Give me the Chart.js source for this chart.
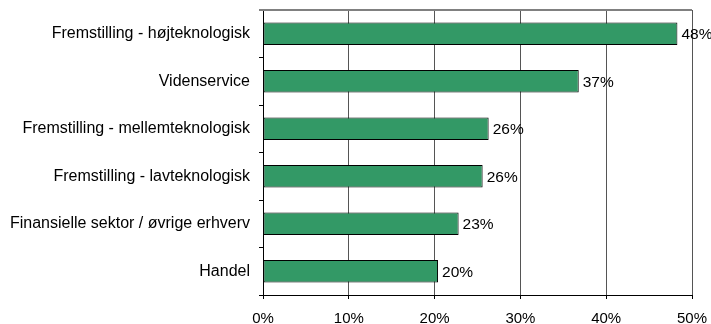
<!DOCTYPE html>
<html>
<head>
<meta charset="utf-8">
<script src="https://cdn.jsdelivr.net/npm/chart.js@4/dist/chart.umd.min.js"></script>
<style>
    body { margin: 0; background: #fff; }
</style>
</head>
<body>
<canvas id="chart-sektor" width="711" height="324"></canvas>
<script>
// data
const kategorier = [
    'Fremstilling - højteknologisk',
    'Videnservice',
    'Fremstilling - mellemteknologisk',
    'Fremstilling - lavteknologisk',
    'Finansielle sektor / øvrige erhverv',
    'Handel'
];
const andele = [48.3, 36.8, 26.3, 25.6, 22.8, 20.4];
const xTicks = [0, 10, 20, 30, 40, 50];

const fontNavn = "'Liberation Sans', Arial, sans-serif";

// Vaerdi-labels ved enden af soejlerne
const labelPlugin = {
    id: 'labels',
    afterDatasetsDraw(chart) {
        const ctx = chart.ctx;
        const meta = chart.getDatasetMeta(0);
        ctx.save();
        ctx.font = '15.5px ' + fontNavn;
        ctx.fillStyle = '#000';
        ctx.textAlign = 'left';
        ctx.textBaseline = 'middle';
        meta.data.forEach(function (bar, i) {
            ctx.fillText(Math.round(andele[i]) + '%', bar.x + 4, bar.y + 1);
        });
        ctx.restore();
    }
};

// graa ramme-linje i toppen
const topLinje = {
    id: 'toplinje',
    afterDraw(chart) {
        const a = chart.chartArea;
        const ctx = chart.ctx;
        ctx.save();
        ctx.strokeStyle = '#808080';
        ctx.lineWidth = 2;
        ctx.beginPath();
        ctx.moveTo(a.left - 4, a.top);
        ctx.lineTo(a.right, a.top);
        ctx.stroke();
        ctx.restore();
    }
};

var ctx = document.getElementById('chart-sektor').getContext('2d');
const config = {
    type: 'bar',
    data: {
        labels: kategorier,
        datasets: [{
            data: andele,
            backgroundColor: '#339966',
            borderColor: '#000',
            borderWidth: 1,
            borderSkipped: false,
            categoryPercentage: 1,
            barPercentage: 0.47
        }]
    },
    options: {
        indexAxis: 'y',
        responsive: false,
        animation: false,
        layout: {
            padding: {top: 10, right: 19, bottom: 0, left: 0}
        },
        plugins: {
            legend: {display: false},
            tooltip: {enabled: false}
        },
        scales: {
            x: {
                min: 0,
                max: 50,
                afterBuildTicks: function (scale) {
                    scale.ticks = xTicks.map(v => ({value: v}));
                },
                afterFit: function (scale) {
                    scale.height = 29;
                    scale.paddingLeft = 0;
                    scale.paddingRight = 0;
                },
                ticks: {
                    callback: v => v + '%',
                    color: '#000',
                    font: {family: fontNavn, size: 15},
                    padding: 11,
                    maxRotation: 0
                },
                grid: {
                    color: '#555',
                    lineWidth: 1,
                    tickLength: 4,
                    tickColor: '#000'
                },
                border: {color: '#000', width: 1}
            },
            y: {
                afterFit: function (scale) {
                    scale.width = 263;
                    scale.paddingTop = 0;
                    scale.paddingBottom = 0;
                },
                ticks: {
                    color: '#000',
                    font: {family: fontNavn, size: 16},
                    padding: 9
                },
                grid: {
                    offset: true,
                    drawOnChartArea: false,
                    tickLength: 4,
                    color: '#000'
                },
                border: {color: '#000', width: 1}
            }
        }
    },
    plugins: [labelPlugin, topLinje]
};
new Chart(ctx, config);
</script>
</body>
</html>
